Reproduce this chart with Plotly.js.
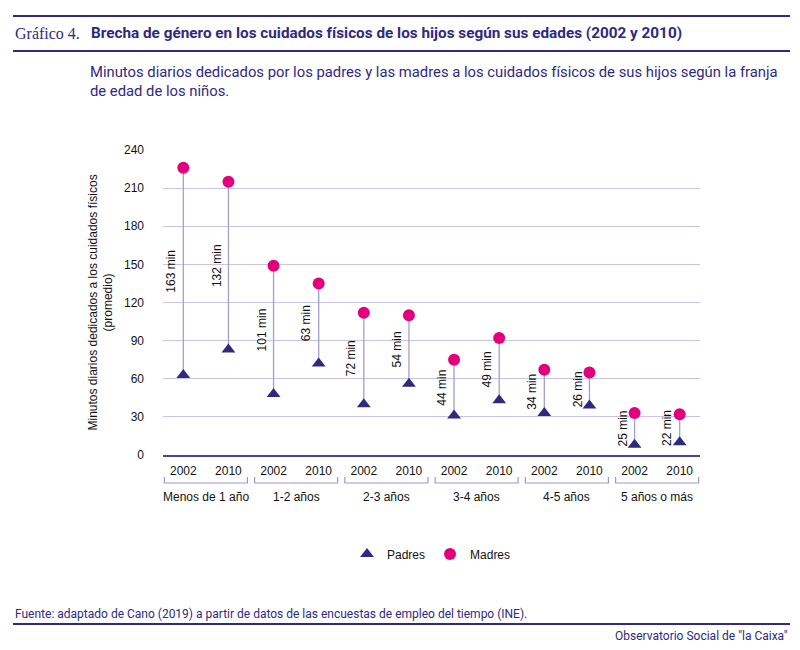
<!DOCTYPE html>
<html>
<head>
<meta charset="utf-8">
<script src="https://cdn.plot.ly/plotly-3.0.1.min.js"></script>
<style>
  body { margin: 0; background: #fff; }
  #chart { width: 800px; height: 650px; }
</style>
</head>
<body>
<div id="chart"></div>
<script>
// data
var grupos = ['Menos de 1 año', '1-2 años', '2-3 años', '3-4 años', '4-5 años', '5 años o más']
var anios = ['2002', '2010']
var padres = [63, 83, 48, 72, 40, 56, 31, 43, 33, 39, 8, 10]
var madres = [226, 215, 149, 135, 112, 110, 75, 92, 67, 65, 33, 32]

var navy = '#2f2a7d'
var magenta = '#e4007c'
var lavanda = '#a29ed2'

// plot area in pixels: left 163, right 700, top 150, bottom 455
function px(x) { return (x - 163) / 537 }
function py(y) { return (455 - y) / 305 }

var xs = padres.map(function (v, i) { return i })
var ticktext = xs.map(function (i) { return anios[i % 2] })

// stems between padres and madres
var stemX = [], stemY = []
xs.forEach(function (i) {
    stemX.push(i, i, null)
    stemY.push(padres[i], madres[i], null)
})

var data = [
    {
        x: stemX, y: stemY, type: 'scatter', mode: 'lines',
        line: { color: lavanda, width: 1.3 },
        showlegend: false, hoverinfo: 'skip'
    },
    {
        name: 'Padres', x: xs, y: padres, type: 'scatter', mode: 'markers',
        marker: { symbol: 'triangle-up', size: 12, color: navy }
    },
    {
        name: 'Madres', x: xs, y: madres, type: 'scatter', mode: 'markers',
        marker: { symbol: 'circle', size: 12, color: magenta }
    }
]

var annotations = []
var shapes = []

// gap labels
xs.forEach(function (i) {
    annotations.push({
        x: i, y: (padres[i] + madres[i]) / 2, xref: 'x', yref: 'y',
        text: (madres[i] - padres[i]) + ' min', textangle: -90,
        showarrow: false, xshift: -12,
        font: { family: 'Liberation Sans, Arial, sans-serif', size: 12, color: '#111' }
    })
})

// group brackets + labels
grupos.forEach(function (g, k) {
    var a = 2 * k - 0.42, b = 2 * k + 1.42
    shapes.push({
        type: 'path', xref: 'x', yref: 'paper',
        path: 'M ' + a + ',' + py(477) + ' L ' + a + ',' + py(483) + ' L ' + b + ',' + py(483) + ' L ' + b + ',' + py(477),
        line: { color: '#9d98cc', width: 1.2 }
    })
    annotations.push({
        x: 2 * k + 0.5, y: py(497), xref: 'x', yref: 'paper',
        text: g, showarrow: false, yanchor: 'middle',
        font: { family: 'Liberation Sans, Arial, sans-serif', size: 12, color: '#111' }
    })
})

// header / footer rules
;[16, 51, 624].forEach(function (yy) {
    shapes.push({
        type: 'line', xref: 'paper', yref: 'paper',
        x0: px(13), x1: px(790), y0: py(yy), y1: py(yy),
        line: { color: navy, width: 2 }
    })
})

var txt = { family: 'Roboto, Liberation Sans, sans-serif', color: navy }

annotations.push(
    { x: px(13), y: py(33), xref: 'paper', yref: 'paper', xanchor: 'left', yanchor: 'middle',
      text: 'Gráfico 4.', showarrow: false,
      font: { family: 'Liberation Serif, DejaVu Serif, serif', size: 16, color: navy } },
    { x: px(89), y: py(33), xref: 'paper', yref: 'paper', xanchor: 'left', yanchor: 'middle',
      text: '<b>Brecha de género en los cuidados físicos de los hijos según sus edades (2002 y 2010)</b>',
      showarrow: false, font: Object.assign({ size: 15.3 }, txt) },
    { x: px(88), y: py(61), xref: 'paper', yref: 'paper', xanchor: 'left', yanchor: 'top', align: 'left',
      text: 'Minutos diarios dedicados por los padres y las madres a los cuidados físicos de sus hijos según la franja<br>de edad de los niños.',
      showarrow: false, font: Object.assign({ size: 14.8 }, txt) },
    { x: px(100), y: 0.5, xref: 'paper', yref: 'paper', xanchor: 'center', yanchor: 'middle', textangle: -90,
      text: 'Minutos diarios dedicados a los cuidados físicos<br>(promedio)', showarrow: false,
      font: { family: 'Liberation Sans, Arial, sans-serif', size: 12, color: '#111' } },
    { x: px(13), y: py(614), xref: 'paper', yref: 'paper', xanchor: 'left', yanchor: 'middle',
      text: 'Fuente: adaptado de Cano (2019) a partir de datos de las encuestas de empleo del tiempo (INE).',
      showarrow: false, font: Object.assign({ size: 12 }, txt) },
    { x: px(790), y: py(636), xref: 'paper', yref: 'paper', xanchor: 'right', yanchor: 'middle',
      text: 'Observatorio Social de "la Caixa"',
      showarrow: false, font: Object.assign({ size: 12 }, txt) }
)

var layout = {
    width: 800, height: 650,
    margin: { l: 163, r: 100, t: 150, b: 195 },
    paper_bgcolor: '#fff', plot_bgcolor: '#fff',
    font: { family: 'Liberation Sans, Arial, sans-serif', size: 12, color: '#111' },
    showlegend: true,
    legend: {
        orientation: 'h', x: 0.5, xanchor: 'center', y: py(554), yanchor: 'middle',
        font: { size: 12, color: '#111' }, itemwidth: 30
    },
    xaxis: {
        range: [-0.45, 11.45], tickvals: xs, ticktext: ticktext,
        showgrid: false, zeroline: false, showline: true,
        linecolor: '#4a44a0', linewidth: 1.5, ticks: '', ticklabelstandoff: 4, fixedrange: true
    },
    yaxis: {
        range: [0, 240], dtick: 30, tick0: 0,
        gridcolor: '#c8c5e3', gridwidth: 1, zeroline: false,
        showline: false, ticks: '', ticklabelstandoff: 18, fixedrange: true
    },
    annotations: annotations,
    shapes: shapes
}

Plotly.newPlot('chart', data, layout, { displayModeBar: false, staticPlot: true })
</script>
</body>
</html>
